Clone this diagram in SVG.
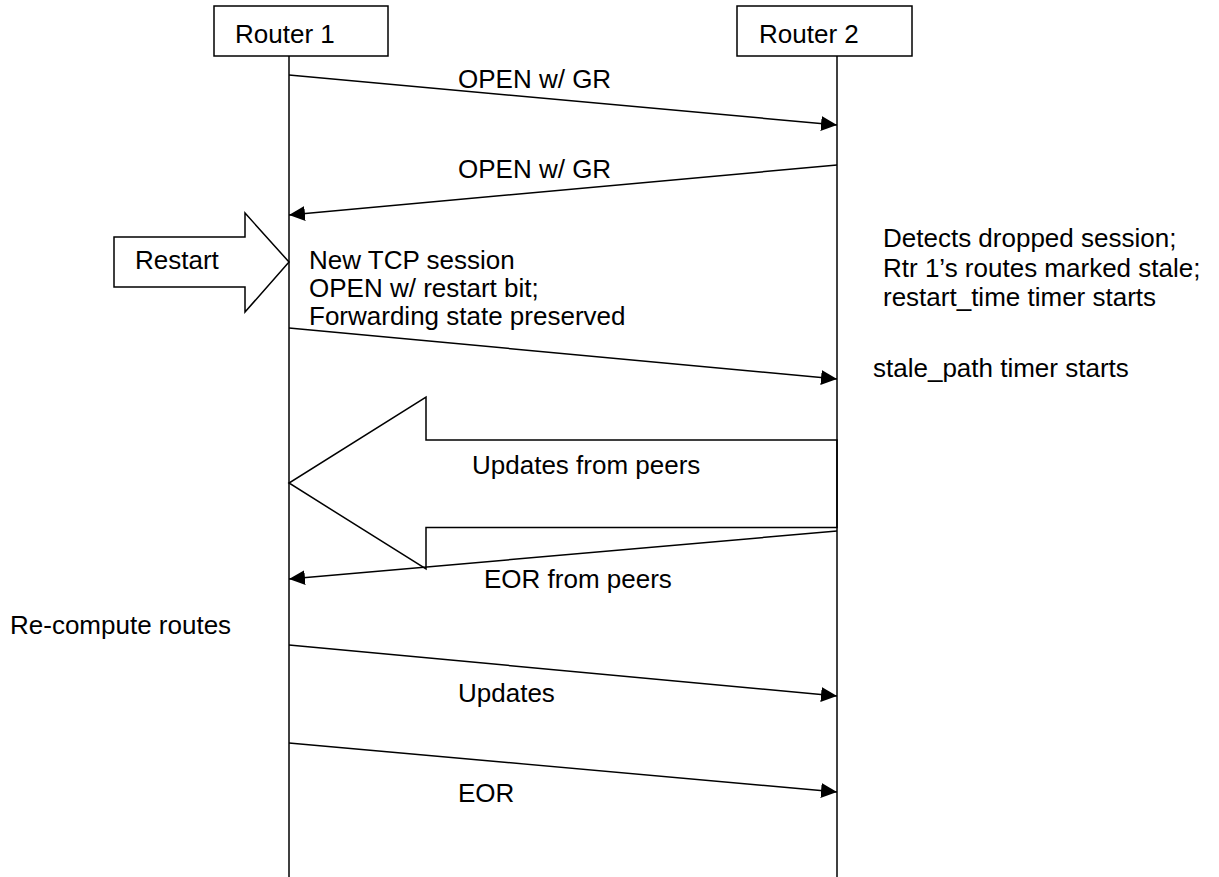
<svg xmlns="http://www.w3.org/2000/svg" width="1219" height="877" viewBox="0 0 1219 877">
<style>
.t{font-family:"Liberation Sans",Arial,sans-serif;font-size:26px;fill:#000}
.s{fill:#fff;stroke:#000;stroke-width:1.5}
.l{fill:none;stroke:#000;stroke-width:1.5}
</style>
<defs>
<marker id="ah" markerWidth="16" markerHeight="15" refX="16" refY="7.5" orient="auto" markerUnits="userSpaceOnUse">
<path d="M0,0 L16,7.5 L0,15 Z" fill="#000"/>
</marker>
</defs>
<rect width="1219" height="877" fill="#fff"/>
<g id="router1">
<rect class="s" x="214" y="6" width="174" height="50"/>
<text class="t" x="235" y="42.5">Router 1</text>
</g>
<g id="router2">
<rect class="s" x="737" y="6" width="175" height="50"/>
<text class="t" x="759" y="42.5">Router 2</text>
</g>
<g id="restart">
<polygon class="s" points="114,237 245,237 245,213 289,262 245,312 245,287 114,287"/>
<text class="t" x="135" y="269">Restart</text>
</g>
<g id="bigarrow">
<polygon class="s" points="837,440 426,440 426,397 289,483 426,569 426,527.5 837,527.5"/>
<text class="t" x="472" y="474">Updates from peers</text>
</g>
<g id="connectors">
<line class="l" x1="289" y1="56" x2="289" y2="877"/>
<line class="l" x1="837" y1="56" x2="837" y2="877"/>
<line class="l" x1="289" y1="75" x2="837" y2="125" marker-end="url(#ah)"/>
<line class="l" x1="837" y1="165" x2="289" y2="215" marker-end="url(#ah)"/>
<line class="l" x1="289" y1="328" x2="837" y2="379" marker-end="url(#ah)"/>
<line class="l" x1="837" y1="531" x2="289" y2="579" marker-end="url(#ah)"/>
<line class="l" x1="289" y1="645" x2="837" y2="696" marker-end="url(#ah)"/>
<line class="l" x1="289" y1="743" x2="837" y2="792" marker-end="url(#ah)"/>
</g>
<g id="labels">
<text class="t" x="458" y="88">OPEN w/ GR</text>
<text class="t" x="458" y="178">OPEN w/ GR</text>
<text class="t" x="309" y="269">New TCP session</text>
<text class="t" x="309" y="297">OPEN w/ restart bit;</text>
<text class="t" x="309" y="325">Forwarding state preserved</text>
<text class="t" x="883" y="247">Detects dropped session;</text>
<text class="t" x="883" y="277">Rtr 1’s routes marked stale;</text>
<text class="t" x="883" y="306">restart_time timer starts</text>
<text class="t" x="873" y="377">stale_path timer starts</text>
<text class="t" x="484" y="588">EOR from peers</text>
<text class="t" x="10" y="634">Re-compute routes</text>
<text class="t" x="458" y="702">Updates</text>
<text class="t" x="458" y="802">EOR</text>
</g>
</svg>
